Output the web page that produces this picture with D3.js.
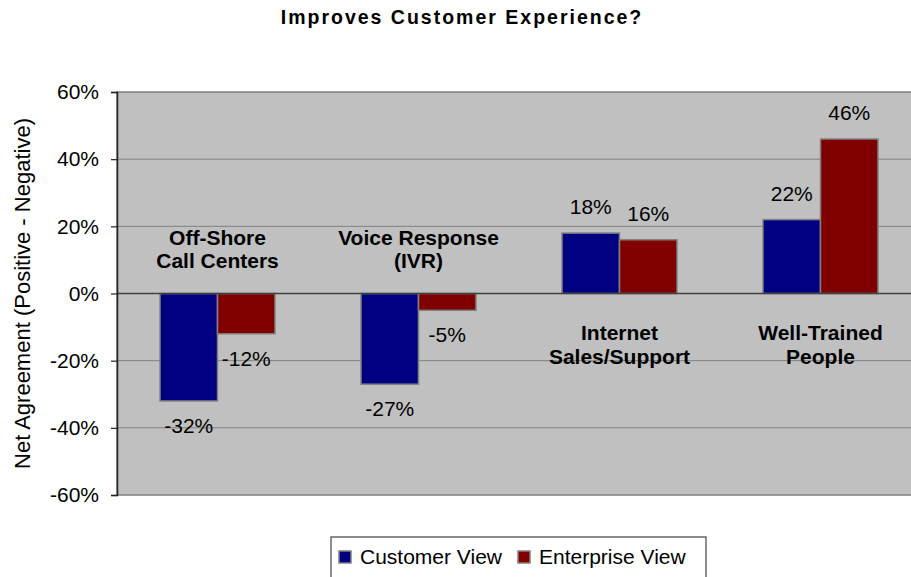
<!DOCTYPE html>
<html>
<head>
<meta charset="utf-8">
<script src="https://cdn.jsdelivr.net/npm/d3@7/dist/d3.min.js"></script>
<style>
  html, body { margin: 0; padding: 0; background: #fff; }
  svg { display: block; font-family: "Liberation Sans", Arial, sans-serif; }
</style>
</head>
<body>
<svg id="chart" width="911" height="577"></svg>
<script>
// ---- Data ----
const categories = ["Off-Shore Call Centers", "Voice Response (IVR)", "Internet Sales/Support", "Well-Trained People"];
const categoryLines = [["Off-Shore", "Call Centers"], ["Voice Response", "(IVR)"], ["Internet", "Sales/Support"], ["Well-Trained", "People"]];
const seriesNames = ["Customer View", "Enterprise View"];
const customerView = [-32, -27, 18, 22];
const enterpriseView = [-12, -5, 16, 46];
const yTicks = [-60, -40, -20, 0, 20, 40, 60];
const colors = ["#000080", "#800000"];

const svg = d3.select("#chart");
const plot = { left: 117, right: 921, top: 92, bottom: 495 };

const x0 = d3.scaleBand().domain(categories).range([plot.left, plot.right])
  .paddingInner(0.428).paddingOuter(0.214);
const x1 = d3.scaleBand().domain(seriesNames).range([0, x0.bandwidth()]).padding(0);
const y = d3.scaleLinear().domain([-60, 60]).range([plot.bottom, plot.top]);

// plot background
svg.append("rect")
  .attr("x", plot.left).attr("y", plot.top)
  .attr("width", plot.right - plot.left).attr("height", plot.bottom - plot.top)
  .attr("fill", "#C0C0C0").attr("stroke", "#808080").attr("stroke-width", 1.5);

// gridlines
svg.append("g").selectAll("line").data(yTicks.filter(d => d !== 0 && d !== 60 && d !== -60)).join("line")
  .attr("x1", plot.left).attr("x2", plot.right)
  .attr("y1", d => y(d)).attr("y2", d => y(d))
  .attr("stroke", "#808080").attr("stroke-width", 1);

// title
svg.append("text")
  .attr("x", 462).attr("y", 24)
  .attr("text-anchor", "middle")
  .attr("font-size", 19.5).attr("font-weight", "bold")
  .attr("letter-spacing", "2px")
  .text("Improves Customer Experience?");

// bars
const series = [customerView, enterpriseView];
const barData = [];
categories.forEach((c, i) => {
  seriesNames.forEach((s, j) => {
    barData.push({ cat: c, ser: s, idx: j, v: series[j][i] });
  });
});

svg.append("g").selectAll("rect").data(barData).join("rect")
  .attr("x", d => x0(d.cat) + x1(d.ser))
  .attr("width", x1.bandwidth())
  .attr("y", d => y(Math.max(0, d.v)))
  .attr("height", d => Math.abs(y(d.v) - y(0)))
  .attr("fill", d => colors[d.idx])
  .attr("stroke", "#808080").attr("stroke-width", 1.5);

// zero line
svg.append("line")
  .attr("x1", plot.left).attr("x2", plot.right)
  .attr("y1", y(0)).attr("y2", y(0))
  .attr("stroke", "#404040").attr("stroke-width", 1.5);

// value labels
svg.append("g").selectAll("text").data(barData).join("text")
  .attr("x", d => x0(d.cat) + x1(d.ser) + x1.bandwidth() / 2)
  .attr("y", d => d.v >= 0 ? y(d.v) - 19 : y(d.v) + 32)
  .attr("text-anchor", "middle")
  .attr("font-size", 21)
  .attr("fill", "#000")
  .text(d => d.v + "%");

// category labels
categories.forEach((c, i) => {
  const cx = x0(c) + x0.bandwidth() / 2;
  const neg = customerView[i] < 0;
  const base = neg ? y(0) - 49 : y(0) + 46.5;
  const t = svg.append("text")
    .attr("text-anchor", "middle")
    .attr("font-size", 21).attr("font-weight", "bold");
  categoryLines[i].forEach((line, k) => {
    t.append("tspan").attr("x", cx).attr("y", base + k * 23.5).text(line);
  });
});

// y axis
const yAxis = d3.axisLeft(y).tickValues(yTicks).tickFormat(d => d + "%")
  .tickSize(6).tickPadding(12);
const gy = svg.append("g").attr("transform", `translate(${plot.left},0)`).call(yAxis);
gy.select(".domain").attr("stroke", "#222").attr("stroke-width", 1.5);
gy.selectAll(".tick line").attr("stroke", "#222").attr("stroke-width", 1.2);
gy.selectAll(".tick text").attr("font-size", 21).attr("fill", "#000")
  .attr("font-family", "'Liberation Sans', Arial, sans-serif");

// y axis title
svg.append("text")
  .attr("transform", `translate(30, ${(plot.top + plot.bottom) / 2}) rotate(-90)`)
  .attr("text-anchor", "middle")
  .attr("font-size", 22)
  .text("Net Agreement (Positive - Negative)");

// legend
const lg = svg.append("g");
lg.append("rect")
  .attr("x", 331).attr("y", 537).attr("width", 375).attr("height", 60)
  .attr("fill", "#fff").attr("stroke", "#404040").attr("stroke-width", 1.2);
const legendX = [339, 518];
seriesNames.forEach((s, j) => {
  lg.append("rect")
    .attr("x", legendX[j]).attr("y", 551).attr("width", 12).attr("height", 12)
    .attr("fill", colors[j]).attr("stroke", "#808080").attr("stroke-width", 1.5);
  lg.append("text")
    .attr("x", legendX[j] + 21).attr("y", 564)
    .attr("font-size", 21)
    .text(s);
});
</script>
</body>
</html>
